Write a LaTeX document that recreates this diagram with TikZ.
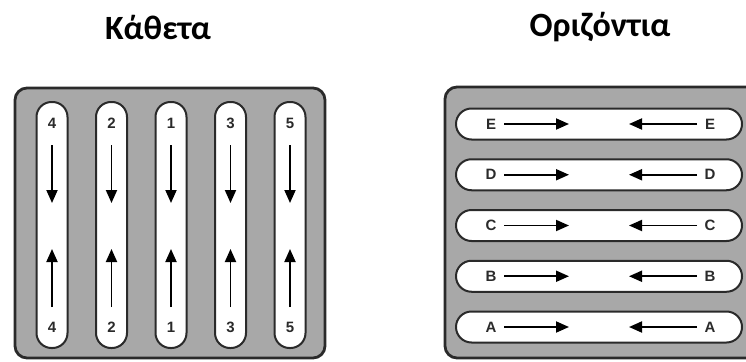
\documentclass[tikz,border=0pt]{standalone}
\usepackage{fontspec}
\newfontfamily\titlefont{Carlito Bold}
\newfontfamily\labelfont{Liberation Sans Bold}
\usetikzlibrary{arrows.meta}
\definecolor{panelgray}{HTML}{A8A8A8}
\definecolor{edge}{HTML}{2A2A2A}
\begin{document}
\begin{tikzpicture}[x=1pt,y=-1pt,
  panel/.style={draw=edge,line width=2.8pt,fill=panelgray,rounded corners=12pt},
  vpill/.style={draw=edge,line width=2pt,fill=white,rounded corners=15pt,
    minimum width=31pt,minimum height=246pt,inner sep=0pt},
  hpill/.style={draw=edge,line width=2pt,fill=white,rounded corners=15.5pt,
    minimum width=286pt,minimum height=31pt,inner sep=0pt},
  tag/.style={font=\labelfont\fontsize{15}{15}\selectfont,text=edge,inner sep=0pt},
  flow/.style={draw=black,line width=1.9pt,-{Triangle[length=13pt,width=11pt]}},
  heading/.style={font=\titlefont\fontsize{34}{34}\selectfont,inner sep=0pt}]
\useasboundingbox (0,0) rectangle (746,361);
\clip (0,0) rectangle (746,361);

% headings
\node[heading] (tv) at (158,27) {Κάθετα};
\node[heading] (th) at (600,27) {Οριζόντια};

% vertical layout
\draw[panel] (15,88) rectangle (325,358);
\foreach \lab [count=\i from 0] in {4,2,1,3,5}{
  \pgfmathsetmacro{\cx}{52+59.5*\i}
  \node[vpill] (vp\i) at (\cx,225) {};
  \node[tag] (vt\i) at (\cx,123) {\lab};
  \node[tag] (vb\i) at (\cx,327) {\lab};
  \coordinate (vd\i a) at (\cx,145);
  \coordinate (vd\i b) at (\cx,203);
  \coordinate (vu\i a) at (\cx,307);
  \coordinate (vu\i b) at (\cx,249);
  \draw[flow] (vd\i a) -- (vd\i b);
  \draw[flow] (vu\i a) -- (vu\i b);
}

% horizontal layout
\draw[panel] (445,87) rectangle (770,358);
\foreach \lab [count=\j from 0] in {E,D,C,B,A}{
  \pgfmathsetmacro{\cy}{124+50.75*\j}
  \node[hpill] (hp\j) at (599,\cy) {};
  \node[tag] (hl\j) at (491,\cy) {\lab};
  \node[tag] (hr\j) at (710,\cy) {\lab};
  \coordinate (hr\j a) at (504,\cy);
  \coordinate (hr\j b) at (569,\cy);
  \coordinate (hl\j a) at (697,\cy);
  \coordinate (hl\j b) at (629,\cy);
  \draw[flow] (hr\j a) -- (hr\j b);
  \draw[flow] (hl\j a) -- (hl\j b);
}
\end{tikzpicture}
\end{document}
